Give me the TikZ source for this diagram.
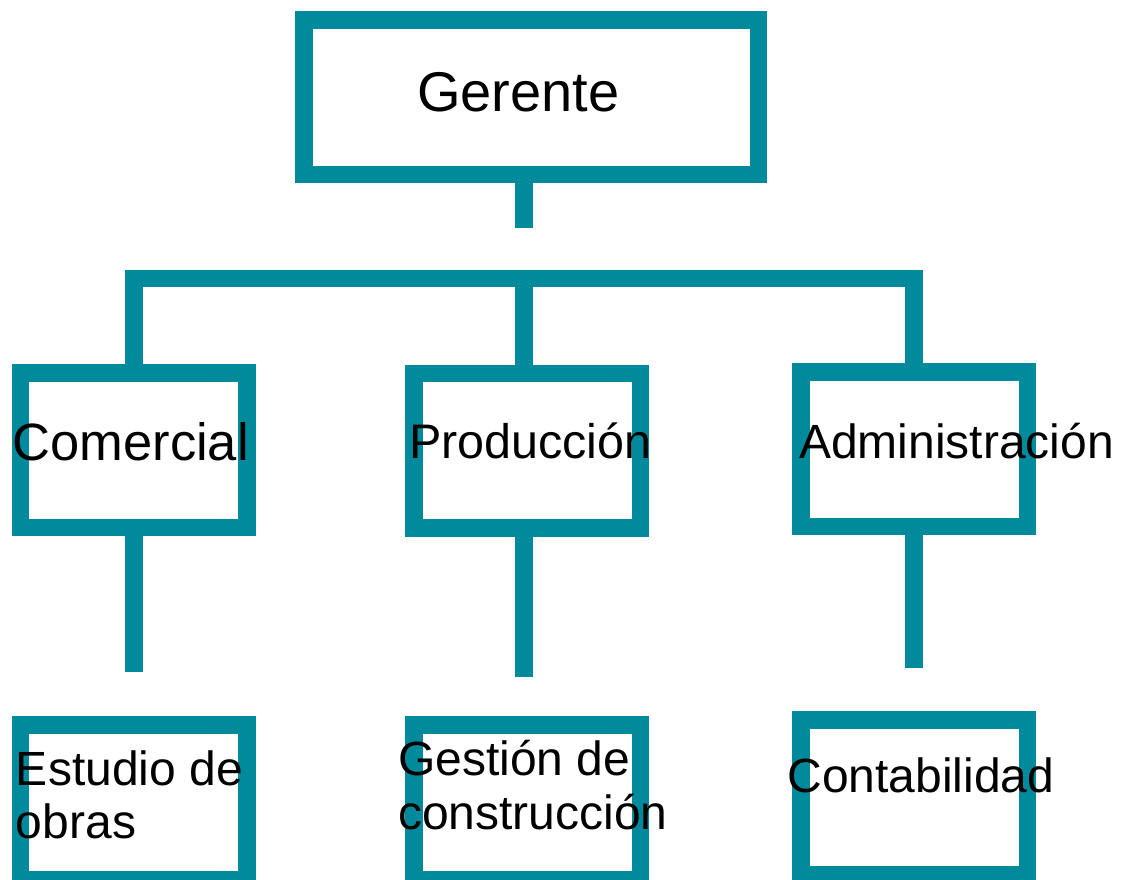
\documentclass[tikz,border=0pt]{standalone}
\usepackage{fontspec}
\setmainfont{Liberation Sans}
\definecolor{teal0}{RGB}{0,138,155}
\begin{document}
\begin{tikzpicture}[x=1pt,y=-1pt,
  box/.style={draw=teal0,line width=17.5pt,rectangle,inner sep=0pt,outer sep=0pt,minimum width=226.5pt,minimum height=154.5pt},
  link/.style={draw=teal0,line width=17.5pt,line cap=butt,line join=miter},
  lbl/.style={anchor=base west,inner sep=0pt,outer sep=0pt,text=black,align=left}]
\useasboundingbox (0,0) rectangle (1123,879);
% boxes
\node[box,minimum width=454.5pt] (ger) at (531.25,97.25) {};
\node[box] (com) at (133.75,450.25) {};
\node[box] (pro) at (527,450.5) {};
\node[box] (adm) at (914,449) {};
\node[box] (est) at (133.75,802) {};
\node[box] (ges) at (527,802) {};
\node[box] (con) at (914,797) {};
% connectors
\coordinate (gstem) at (524,228);
\coordinate (bar) at (524,278.5);
\coordinate (cstem) at (133.75,672);
\coordinate (pstem) at (524,677);
\coordinate (astem) at (914,668);
\draw[link] (ger.south -| gstem) -- (gstem);
\draw[link] (com.north) |- (bar) -| (adm.north);
\draw[link] (bar) -- (pro.north -| bar);
\draw[link] (com.south) -- (cstem);
\draw[link] (pro.south -| pstem) -- (pstem);
\draw[link] (adm.south) -- (astem);
% labels
\node[lbl,font=\fontsize{56}{60}\selectfont] (tger) at (417,111) {Gerente};
\node[lbl,font=\fontsize{52.5}{56}\selectfont] (tcom) at (12.5,460) {Comercial};
\node[lbl,font=\fontsize{48.5}{53}\selectfont] (tpro) at (409,458) {Producción};
\node[lbl,font=\fontsize{48}{53}\selectfont] (tadm) at (799,458) {Administración};
\node[lbl,font=\fontsize{48}{53}\selectfont] (test) at (16,838) {Estudio de\\obras};
\node[lbl,font=\fontsize{48}{54}\selectfont] (tges) at (398,829) {Gestión de\\construcción};
\node[lbl,font=\fontsize{48}{53}\selectfont] (tcon) at (787.5,792) {Contabilidad};
\end{tikzpicture}
\end{document}
